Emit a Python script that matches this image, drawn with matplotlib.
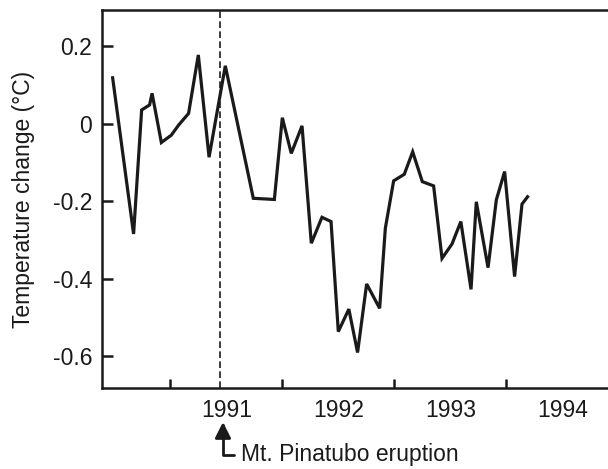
import numpy as np
import matplotlib
matplotlib.use('Agg')
from matplotlib import pyplot as plt

plt.rcParams['font.family'] = ['Liberation Sans', 'DejaVu Sans']
plt.rcParams['axes.unicode_minus'] = False

# decimal year and temperature change (degC)
year = [1990.485, 1990.672, 1990.744, 1990.815, 1990.837, 1990.920, 1991.009,
        1991.074, 1991.163, 1991.250, 1991.346, 1991.491, 1991.741, 1991.929,
        1992.000, 1992.080, 1992.176, 1992.259, 1992.354, 1992.435, 1992.500,
        1992.594, 1992.672, 1992.753, 1992.869, 1992.920, 1992.994, 1993.089,
        1993.164, 1993.250, 1993.351, 1993.426, 1993.515, 1993.594, 1993.685,
        1993.732, 1993.837, 1993.911, 1993.985, 1994.074, 1994.140, 1994.190]
temp = [0.118, -0.285, 0.035, 0.048, 0.078, -0.049, -0.030,
        -0.004, 0.026, 0.177, -0.087, 0.149, -0.193, -0.196,
        0.015, -0.077, -0.006, -0.309, -0.242, -0.253, -0.537,
        -0.479, -0.591, -0.414, -0.477, -0.270, -0.148, -0.131,
        -0.073, -0.150, -0.161, -0.348, -0.311, -0.253, -0.428,
        -0.202, -0.372, -0.197, -0.124, -0.395, -0.208, -0.189]

eruption = 1991.44
year_ticks = [1991, 1992, 1993, 1994]
year_labels = ['1991', '1992', '1993', '1994']
y_ticks = [0.2, 0, -0.2, -0.4, -0.6]
y_labels = ['0.2', '0', '-0.2', '-0.4', '-0.6']
fs = 16.5

fig = plt.figure(figsize=(6.08, 4.69), dpi=100)
ax = fig.add_axes([102/608, 81/469, 506/608, 378/469])

ax.plot(year, temp, color='#1a1a1a', lw=2.3, solid_joinstyle='miter')
ax.axvline(eruption, color='#1a1a1a', lw=1.2, ls=(0, (4, 2)))

ax.set_xlim(1990.39, 1994.908)
ax.set_ylim(-0.6826, 0.293)

# major ticks at year boundaries, labels in the middle of each year
ax.set_xticks(year_ticks)
ax.set_xticklabels([])
ax.set_xticks([y + 0.5 for y in year_ticks], minor=True)
ax.set_xticklabels(year_labels, minor=True)
ax.tick_params(axis='x', which='major', direction='in', length=6.5, width=1.8, color='#1a1a1a')
ax.tick_params(axis='x', which='minor', length=0, pad=8, labelsize=fs, labelcolor='#1a1a1a')

ax.set_yticks(y_ticks)
ax.set_yticklabels(y_labels)
ax.tick_params(axis='y', direction='in', length=8, width=1.8, pad=7, labelsize=fs,
               color='#1a1a1a', labelcolor='#1a1a1a')

ax.set_ylabel('Temperature change (°C)', fontsize=fs, color='#1a1a1a', va='center')
ax.yaxis.set_label_coords(-0.156, 0.5)

for s in ['left', 'bottom', 'top']:
    ax.spines[s].set_linewidth(1.8)
    ax.spines[s].set_color('#1a1a1a')
ax.spines['right'].set_visible(False)

ax.annotate('Mt. Pinatubo eruption', xy=(eruption + 0.03, -0.09), xycoords=('data', 'axes fraction'),
            xytext=(1991.634, -0.177), textcoords=('data', 'axes fraction'),
            ha='left', va='center', fontsize=fs, color='#1a1a1a',
            arrowprops=dict(arrowstyle='-|>', connectionstyle='angle,angleA=180,angleB=90,rad=0',
                            lw=2, color='#1a1a1a', mutation_scale=24, shrinkA=3, shrinkB=0))

plt.savefig('out.png', dpi=100)
